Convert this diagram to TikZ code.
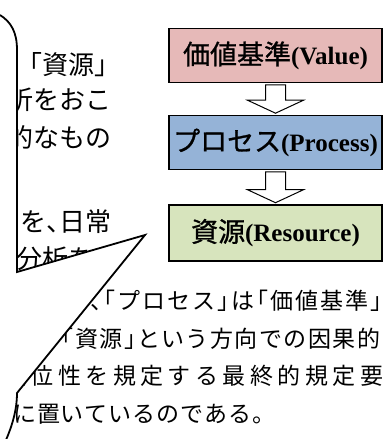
\documentclass[tikz,border=0pt]{standalone}
\usepackage{fontspec}
\setmainfont{Liberation Serif}
\newfontfamily\jp{Noto Sans CJK JP}
\newfontfamily\jpb[FakeBold=1]{Noto Sans CJK JP}
\usetikzlibrary{calc}
\definecolor{pinkc}{HTML}{E6B9B8}
\definecolor{bluec}{HTML}{95B3D7}
\definecolor{greenc}{HTML}{D7E4BD}
\def\sglyph#1{\ifx#1「\hbox to .5em{\hss#1}\else\ifx#1」\hbox to .5em{#1\hss}\else\ifx#1、\hbox to .5em{#1\hss}\else#1\fi\fi\fi}
\def\spreadfirst#1{\sglyph{#1}\spreadrest}
\def\spreadrest#1{\ifx#1\relax\else\hfill\sglyph{#1}\expandafter\spreadrest\fi}
\newcommand\spreadline[2]{\hbox to #1{\spreadfirst#2\relax}}
\newcommand\boxjp[1]{{\jpb\mdseries\fontsize{27}{27}\selectfont #1}}
\begin{document}
\begin{tikzpicture}[x=1pt,y=-1pt,
  ptext/.style={inner sep=0pt, anchor=base west, font=\jp\fontsize{23}{23}\selectfont},
  utext/.style={inner sep=0pt, anchor=base east, font=\jp\fontsize{26}{26}\selectfont},
  box/.style={draw=black, line width=1.6pt, minimum width=213.5pt, minimum height=54pt, inner sep=0pt, font=\bfseries\fontsize{25}{25}\selectfont},
  barrow/.style={draw=black, line width=1pt, fill=white, line join=miter},
  callout/.style={draw=black, line width=1.8pt, line join=miter}]
\useasboundingbox (0,0) rectangle (390,439);
\fill[white] (0,0) rectangle (390,439);

% diagram
\node[box, fill=pinkc] (val) at (275.5,55.5) {\boxjp{価値基準}(Value)};
\node[box, fill=bluec] (pro) at (275.5,142.5) {\boxjp{プロセス}(Process)};
\node[box, fill=greenc, minimum height=56pt] (res) at (275.5,233) {\boxjp{資源}(Resource)};

\path (val.south) ++(0,1.5) coordinate (a1s) (pro.north) ++(0,-1.5) coordinate (a1t);
\path (pro.south) ++(0,1.5) coordinate (a2s) (res.north) ++(0,-1.5) coordinate (a2t);
\draw[barrow] ($(a1s)+(-10,0)$) -- ($(a1s)+(10,0)$) -- ($(a1t)+(10,-13)$) -- ($(a1t)+(28,-13)$) -- (a1t) -- ($(a1t)+(-28,-13)$) -- ($(a1t)+(-10,-13)$) -- cycle;
\draw[barrow] ($(a2s)+(-10,0)$) -- ($(a2s)+(10,0)$) -- ($(a2t)+(10,-13)$) -- ($(a2t)+(28,-13)$) -- (a2t) -- ($(a2t)+(-28,-13)$) -- ($(a2t)+(-10,-13)$) -- cycle;

% lower paragraph
\node[ptext] (l1) at (90,309.7) {\spreadline{292pt}{、「プロセス」は「価値基準」}};
\node[ptext] (l2) at (62,347.2) {\spreadline{318pt}{「資源」という方向での因果的}};
\node[ptext] (l3) at (3,384.7) {\spreadline{380pt}{優位性を規定する最終的規定要}};
\node[ptext] (l4) at (13,422.2) {\spreadline{262pt}{に置いているのである。}};

% white tail of the callout
\fill[white] (0,272) -- (17,272) -- (145,235) -- (17,393) .. controls (17,410) and (12,426) .. (6,440) -- (0,440) -- cycle;

% text inside the callout
\begin{scope}
\clip (17,0) -- (210,0) -- (210,216.2) -- (17,272) -- cycle;
\node[utext] (u1) at (121,74.9) {「資源」};
\node[utext] (u2) at (112,109.9) {析をおこ};
\node[utext] (u3) at (112,147.9) {的なもの};
\node[utext] (u4) at (112,231.9) {\spreadline{91pt}{を、日常}};
\node[utext, anchor=base west] (u5) at (16,268.9) {分析を};
\end{scope}

\draw[callout] (0,15) .. controls (11,22) and (17,32) .. (17,50) -- (17,272) -- (145,235) -- (17,393) .. controls (17,410) and (12,426) .. (6,440);
\end{tikzpicture}
\end{document}
